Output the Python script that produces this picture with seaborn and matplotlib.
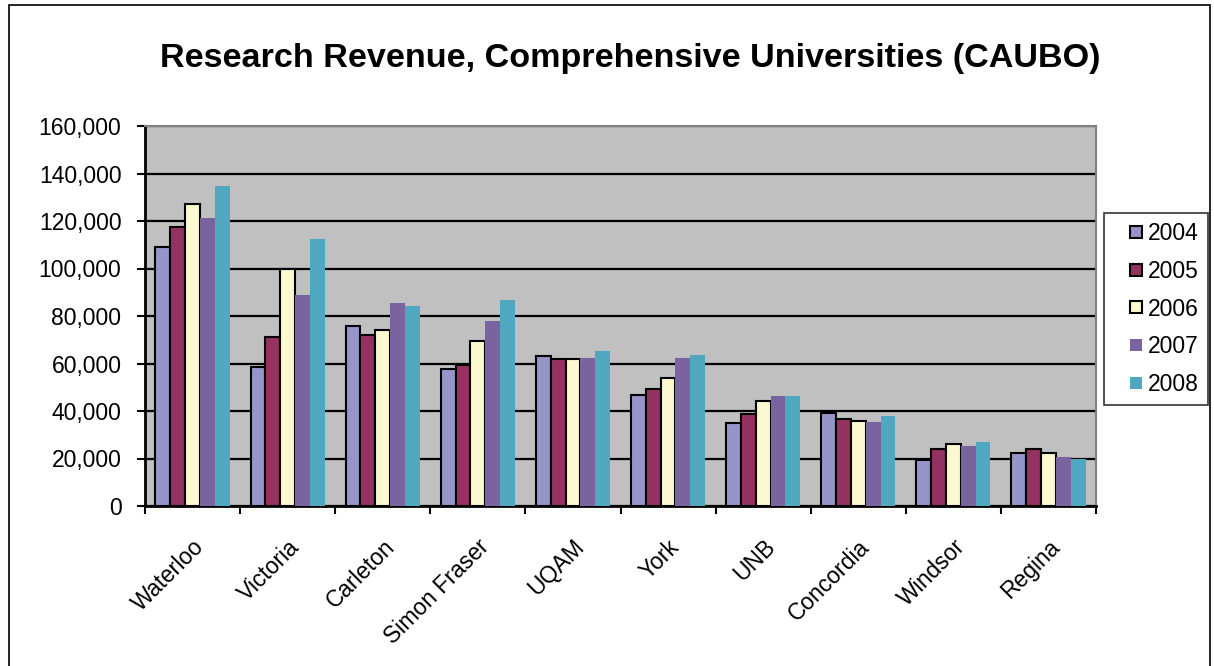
import matplotlib
matplotlib.use("Agg")
import matplotlib.pyplot as plt
import seaborn as sns
import pandas as pd
import numpy as np
from matplotlib.patches import Rectangle
from matplotlib.lines import Line2D
from matplotlib.ticker import FuncFormatter, MultipleLocator

universities = ["Waterloo", "Victoria", "Carleton", "Simon Fraser", "UQAM",
                "York", "UNB", "Concordia", "Windsor", "Regina"]
years = ["2004", "2005", "2006", "2007", "2008"]
v2004 = [109100, 58400, 75700, 57600, 63100, 46600, 35000, 39200, 19500, 22300]
v2005 = [117300, 71100, 72100, 59400, 62100, 49400, 38600, 36800, 24200, 24000]
v2006 = [127200, 99900, 73900, 69400, 61900, 54100, 44100, 35800, 26100, 22300]
v2007 = [121200, 88800, 85300, 77900, 62400, 62400, 46200, 35300, 25400, 20600]
v2008 = [134800, 112400, 84300, 86900, 65200, 63500, 46200, 38100, 27100, 19900]
colors = ["#9595C9", "#953262", "#FCF8CF", "#7B63A0", "#4FA7C0"]
edged = [True, True, True, False, False]

series = [v2004, v2005, v2006, v2007, v2008]
rows = []
for y, vals in zip(years, series):
    for u, v in zip(universities, vals):
        rows.append({"University": u, "Year": y, "Revenue": v})
df = pd.DataFrame(rows)

sns.set_theme(style="white")
plt.rcParams["font.family"] = ["Liberation Sans", "DejaVu Sans"]
plt.rcParams["text.color"] = "black"
plt.rcParams["xtick.color"] = "black"
plt.rcParams["ytick.color"] = "black"
plt.rcParams["xtick.labelcolor"] = "black"
plt.rcParams["ytick.labelcolor"] = "black"

fig = plt.figure(figsize=(12.14, 6.66), dpi=100)
ax = fig.add_axes([145/1214, 1-506/666, (1096-145)/1214, (506-126)/666])
ax.set_facecolor("#C0C0C0")

sns.barplot(data=df, x="University", y="Revenue", hue="Year", order=universities,
            hue_order=years, palette=colors, width=0.78, saturation=1,
            errorbar=None, ax=ax, legend=False, zorder=3)

for cont, e in zip(ax.containers, edged):
    for bar in cont:
        if e:
            bar.set_edgecolor("black")
            bar.set_linewidth(1.5)
        else:
            bar.set_linewidth(0)

ax.set_ylim(0, 160000)
ax.set_xlim(-0.5, len(universities) - 0.5)
ax.yaxis.set_major_locator(MultipleLocator(20000))
ax.yaxis.set_major_formatter(FuncFormatter(lambda v, p: f"{int(v):,}"))
ax.yaxis.grid(True, color="black", linewidth=1.6, zorder=1)
ax.set_axisbelow(True)
ax.set_xlabel("")
ax.set_ylabel("")

ax.set_xticks(range(len(universities)))
ax.set_xticklabels(universities, rotation=45, ha="right", rotation_mode="anchor",
                   fontsize=16.5, color="black")
ax.set_xticks(np.arange(-0.5, len(universities)), minor=True)
ax.tick_params(axis="x", which="major", length=0, pad=21)
ax.tick_params(axis="x", which="minor", length=6, width=1.5, color="black",
               direction="out", bottom=True)
ax.tick_params(axis="y", length=6, width=1.5, color="black", direction="out",
               left=True, labelsize=16.5, pad=11)

for s in ["left", "bottom"]:
    ax.spines[s].set_color("black")
    ax.spines[s].set_linewidth(2)
for s in ["top", "right"]:
    ax.spines[s].set_color("#808080")
    ax.spines[s].set_linewidth(1.5)

fig.text(0.5194, 1-67/666, "Research Revenue, Comprehensive Universities (CAUBO)",
         ha="center", va="baseline", fontsize=24.6, fontweight="bold", color="black")

handles = [Line2D([], [], linestyle="none", marker="s", markersize=8,
                  markerfacecolor=c, markeredgecolor="black" if e else c,
                  markeredgewidth=1.5 if e else 0)
           for c, e in zip(colors, edged)]
leg = fig.legend(handles, years, loc="center left",
                 bbox_to_anchor=(1104/1214, 1-309/666), borderaxespad=0,
                 fontsize=16.5, frameon=True,
                 fancybox=False, edgecolor="black", handlelength=2.0,
                 handletextpad=-0.5, labelspacing=0.645,
                 borderpad=0.4)
leg.get_frame().set_linewidth(1.2)
for t in leg.get_texts():
    t.set_color("black")

fig.patches.append(Rectangle((9/1214, -0.01), (1210-9)/1214, 1.01-5/666,
                             transform=fig.transFigure, fill=False,
                             edgecolor="black", linewidth=1.2))

fig.savefig("out.png", dpi=100)
